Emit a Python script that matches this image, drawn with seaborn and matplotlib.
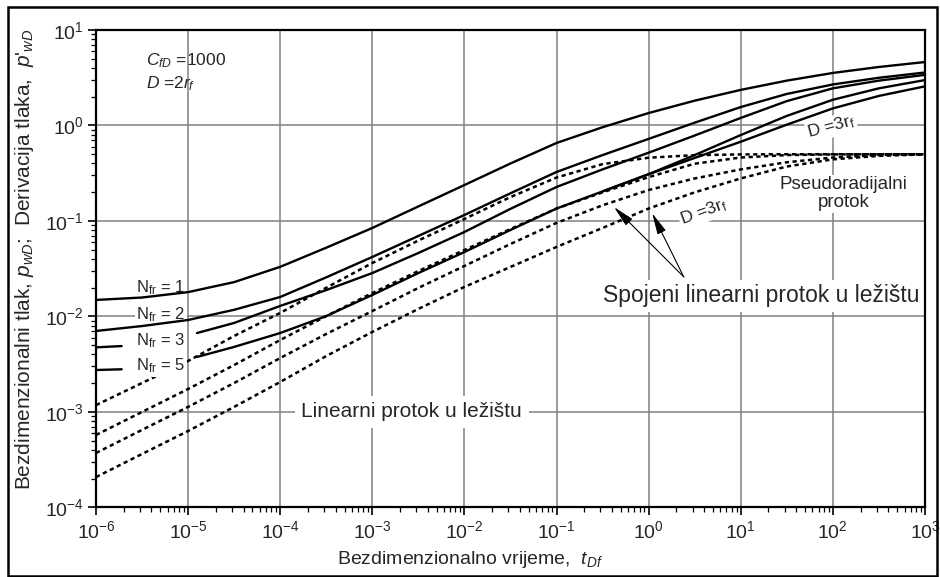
import numpy as np
import pandas as pd
import matplotlib
matplotlib.use('Agg')
import matplotlib.pyplot as plt
import seaborn as sns
from matplotlib.patches import Rectangle
from matplotlib.ticker import LogLocator, NullFormatter

# dimensionless time (half-decade steps)
t_grid = [1e-6, 3.16e-6, 1e-5, 3.16e-5, 1e-4, 3.16e-4, 1e-3, 3.16e-3, 1e-2, 3.16e-2,
          1e-1, 3.16e-1, 1, 3.16, 10, 31.6, 100, 316, 1000]
t_stub = [1e-6, 1.9e-6]
t_late = [1.25e-5, 3.16e-5, 1e-4, 3.16e-4, 1e-3, 3.16e-3, 1e-2, 3.16e-2,
          1e-1, 3.16e-1, 1, 3.16, 10, 31.6, 100, 316, 1000]
t_d3rf = [0.316, 1, 3.16, 10, 31.6, 100, 316, 1000]

# pressure p_wD (solid)
p_n1 = [0.0149, 0.0158, 0.0180, 0.0229, 0.0331, 0.0525, 0.0845, 0.142, 0.238, 0.400,
        0.656, 0.959, 1.35, 1.82, 2.36, 2.95, 3.55, 4.10, 4.62]
p_n2 = [0.00705, 0.00794, 0.00919, 0.01175, 0.0160, 0.0257, 0.0420, 0.0697, 0.1156, 0.195,
        0.326, 0.490, 0.724, 1.07, 1.56, 2.14, 2.69, 3.16, 3.59]
p_n3_stub = [0.00475, 0.0049]
p_n3 = [0.00671, 0.00855, 0.0129, 0.0189, 0.0285, 0.0462, 0.0767, 0.134, 0.227, 0.347,
        0.519, 0.785, 1.20, 1.80, 2.45, 2.95, 3.39]
p_n5_stub = [0.00275, 0.0028]
p_n5 = [0.00377, 0.0048, 0.00671, 0.0101, 0.0168, 0.0285, 0.0473, 0.0805, 0.135, 0.204,
        0.309, 0.490, 0.794, 1.26, 1.86, 2.45, 2.99]
p_d3rf = [0.204, 0.309, 0.457, 0.676, 1.02, 1.51, 2.04, 2.57]

# pressure derivative p'_wD (dotted)
d_n1 = [0.00118, 0.00201, 0.00342, 0.00625, 0.0109, 0.0200, 0.0363, 0.0624, 0.105, 0.178,
        0.285, 0.394, 0.460, 0.489, 0.498, 0.5, 0.5, 0.5, 0.5]
d_n2 = [0.000574, 0.00100, 0.00174, 0.00310, 0.00567, 0.0101, 0.0176, 0.0299, 0.0497, 0.0824,
        0.135, 0.1995, 0.288, 0.398, 0.462, 0.490, 0.498, 0.5, 0.5]
d_n3 = [0.000372, 0.000649, 0.00113, 0.00201, 0.00367, 0.00656, 0.0114, 0.0199, 0.0338, 0.0574,
        0.0955, 0.146, 0.211, 0.279, 0.347, 0.412, 0.462, 0.490, 0.499]
d_n5 = [0.000208, 0.000363, 0.000632, 0.00113, 0.00206, 0.00385, 0.00689, 0.0120, 0.0204, 0.033,
        0.0535, 0.0845, 0.135, 0.1995, 0.279, 0.372, 0.442, 0.481, 0.498]

sns.set_theme(style='ticks')
plt.rcParams['font.family'] = ['Liberation Sans', 'DejaVu Sans']
plt.rcParams['mathtext.fontset'] = 'custom'
plt.rcParams['mathtext.rm'] = 'Liberation Sans'
plt.rcParams['mathtext.it'] = 'Liberation Sans:italic'
plt.rcParams['mathtext.bf'] = 'Liberation Sans:bold'

fig, ax = plt.subplots(figsize=(9.4, 5.77), dpi=100)
fig.subplots_adjust(left=0.1021, right=0.984, bottom=0.1205, top=0.948)
ax.set_xscale('log')
ax.set_yscale('log')

solid = [(t_grid, p_n1), (t_grid, p_n2), (t_stub, p_n3_stub), (t_late, p_n3),
         (t_stub, p_n5_stub), (t_late, p_n5), (t_d3rf, p_d3rf)]
for t, p in solid:
    sns.lineplot(x=t, y=p, ax=ax, color='black', lw=1.7, estimator=None, sort=False, zorder=3)

for p in [d_n1, d_n2, d_n3, d_n5]:
    sns.lineplot(x=t_grid, y=p, ax=ax, color='black', lw=1.8, estimator=None, sort=False,
                 linestyle=(0, (1.7, 1.4)), zorder=3)

ax.set_xlim(1e-6, 1e3)
ax.set_ylim(1e-4, 10)

for axis in [ax.xaxis, ax.yaxis]:
    axis.set_major_locator(LogLocator(base=10, numticks=15))
    axis.set_minor_locator(LogLocator(base=10, subs=np.arange(2, 10), numticks=100))
    axis.set_minor_formatter(NullFormatter())
ax.tick_params(which='major', direction='out', length=6, width=1.2, labelsize=14, pad=3, color='black')
ax.tick_params(which='minor', direction='out', length=3.5, width=0.9, color='black')
ax.grid(True, which='major', color='#808080', lw=1.1)
ax.grid(False, which='minor')
ax.set_axisbelow(True)
for s in ax.spines.values():
    s.set_color('black')
    s.set_linewidth(1.6)

ax.set_xlabel('Bezdimenzionalno vrijeme,  $t_{Df}$', fontsize=14)
ax.set_ylabel("Bezdimenzionalni tlak, $p_{wD}$;  Derivacija tlaka,  $p$'$_{wD}$", fontsize=15)
ax.xaxis.set_label_coords(0.451, -0.088)
ax.yaxis.set_label_coords(-0.072, 0.52)

box = dict(facecolor='white', edgecolor='none', pad=1)
ax.text(0.060, 0.935, '$C_{fD}$ =1000', transform=ax.transAxes, fontsize=12.5, va='center', ha='left')
ax.text(0.060, 0.887, '$D$ =2$r_f$', transform=ax.transAxes, fontsize=12.5, va='center', ha='left')

n_labels = ['N$_{\\rm fr}$ = 1', 'N$_{\\rm fr}$ = 2', 'N$_{\\rm fr}$ = 3', 'N$_{\\rm fr}$ = 5']
n_y = [0.460, 0.404, 0.349, 0.296]
for lab, yy in zip(n_labels, n_y):
    z = 4 if lab.endswith('5') else 2.5
    ax.text(0.078, yy, lab, transform=ax.transAxes, fontsize=12, ha='center', va='center',
            bbox=box, zorder=z)

ax.text(0.381, 0.200, 'Linearni protok u ležištu', transform=ax.transAxes, fontsize=15,
        ha='center', va='center', bbox=dict(facecolor='white', edgecolor='none', pad=5), zorder=4)
ax.text(0.802, 0.443, 'Spojeni linearni protok u ležištu', transform=ax.transAxes, fontsize=16.5,
        ha='center', va='center', bbox=dict(facecolor='white', edgecolor='none', pad=3), zorder=4)
ax.text(0.902, 0.657, 'Pseudoradijalni\nprotok', transform=ax.transAxes, fontsize=13.5,
        ha='center', va='center', linespacing=1.1, bbox=box, zorder=4)
ax.text(0.887, 0.797, 'D =3r$_{\\rm f}$', transform=ax.transAxes, fontsize=12.5, rotation=15,
        ha='center', va='center', bbox=box, zorder=4)
ax.text(0.733, 0.619, 'D =3r$_{\\rm f}$', transform=ax.transAxes, fontsize=12.5, rotation=20,
        ha='center', va='center', bbox=box, zorder=4)

arrow = dict(arrowstyle='-|>,head_length=0.65,head_width=0.14', color='black', lw=0.8,
             mutation_scale=20, shrinkA=0, shrinkB=0)
for tip in [(0.625, 0.629), (0.671, 0.616)]:
    ax.annotate('', xy=tip, xytext=(0.709, 0.483), xycoords='axes fraction',
                textcoords='axes fraction', arrowprops=arrow, zorder=5)

fig.patches.append(Rectangle((0.008, 0.002), 0.989, 0.986, transform=fig.transFigure,
                             fill=False, edgecolor='black', lw=1.8))

fig.savefig('out.png', dpi=100)
